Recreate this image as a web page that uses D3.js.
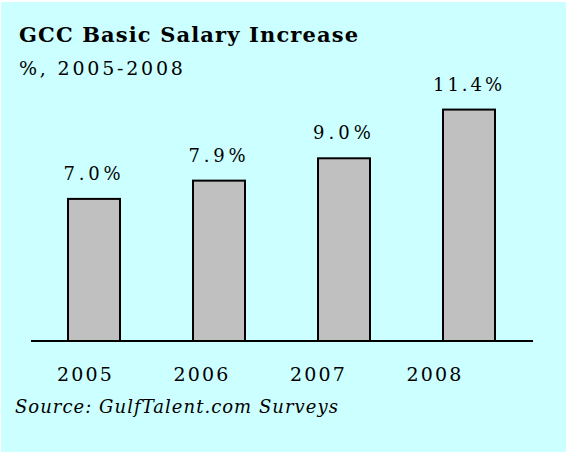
<!DOCTYPE html>
<html><head><meta charset="utf-8">
<script src="https://cdn.jsdelivr.net/npm/d3@7/dist/d3.min.js"></script>
<style>body{margin:0;background:#fff}svg{display:block}</style>
</head><body>
<script>
const years = ["2005", "2006", "2007", "2008"];
const values = [7.0, 7.9, 9.0, 11.4];
const valueLabels = ["7.0%", "7.9%", "9.0%", "11.4%"];
const title = "GCC Basic Salary Increase";
const subtitle = "%, 2005-2008";
const source = "Source: GulfTalent.com Surveys";

const W = 566, H = 452;
const svg = d3.select("body").append("svg").attr("width", W).attr("height", H);
svg.append("rect").attr("x", 1).attr("y", 2).attr("width", W - 1).attr("height", H - 2).attr("fill", "#ccffff");

const font = "'DejaVu Serif', Georgia, serif";
const baseY = 341;
const x = d3.scaleBand().domain(years).range([31.5, 531.5]).paddingInner(0.584).paddingOuter(0.292);
const y = d3.scaleLinear().domain([0, 10]).range([baseY, baseY - 203]);
const xl = d3.scalePoint().domain(years).range([85, 434.5]);

function fitTo(target) {
  return function () {
    const t = d3.select(this);
    t.attr("letter-spacing", 0);
    const w = this.getComputedTextLength();
    t.attr("letter-spacing", ((target - w) / (t.text().length - 1)).toFixed(2));
  };
}

svg.append("g").selectAll("rect").data(values).join("rect")
  .attr("x", (d, i) => x(years[i]))
  .attr("y", d => y(d))
  .attr("width", x.bandwidth())
  .attr("height", d => baseY - y(d))
  .attr("fill", "#c0c0c0").attr("stroke", "#000").attr("stroke-width", 2);

svg.append("line").attr("x1", 31).attr("x2", 533).attr("y1", baseY).attr("y2", baseY)
  .attr("stroke", "#000").attr("stroke-width", 2);

svg.append("g").selectAll("text").data(values).join("text")
  .attr("x", (d, i) => x(years[i]) + x.bandwidth() / 2)
  .attr("y", d => y(d) - 19)
  .attr("text-anchor", "middle")
  .attr("font-family", font).attr("font-size", 18).attr("fill", "#000")
  .text((d, i) => valueLabels[i])
  .each(function (d, i) { fitTo([57, 57, 58, 69][i]).call(this); });

const xAxis = d3.axisBottom(xl).tickSize(0).tickPadding(0);
const ax = svg.append("g").attr("transform", `translate(0,${381})`).call(xAxis);
ax.select(".domain").remove();
ax.selectAll("text").attr("font-family", font).attr("font-size", 19).attr("fill", "#000")
  .attr("dy", 0).attr("y", 0)
  .each(fitTo(55));

svg.append("text").attr("x", 19).attr("y", 42).attr("font-family", font)
  .attr("font-weight", "bold").attr("font-size", 21).attr("fill", "#000").text(title)
  .each(fitTo(339));

svg.append("text").attr("x", 19).attr("y", 75).attr("font-family", font)
  .attr("font-size", 19).attr("fill", "#000").text(subtitle)
  .each(fitTo(164));

svg.append("text").attr("x", 15).attr("y", 413).attr("font-family", font)
  .attr("font-style", "italic").attr("font-size", 18).attr("fill", "#000").text(source)
  .each(fitTo(323));
</script>
</body></html>
